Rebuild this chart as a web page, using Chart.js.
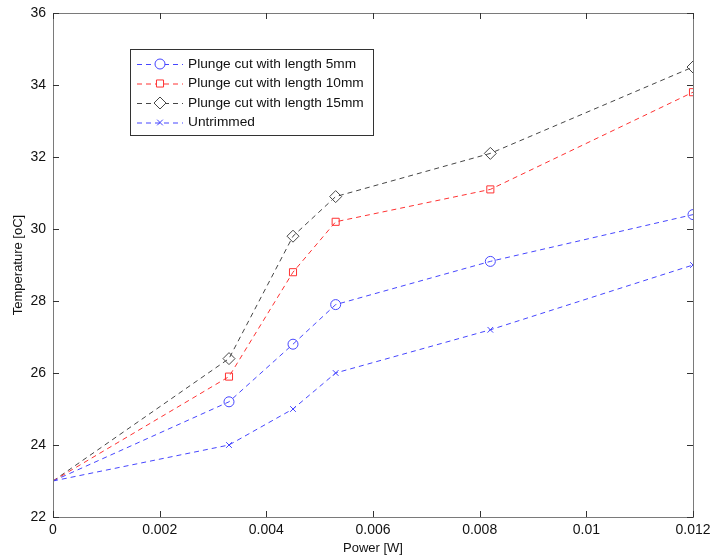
<!DOCTYPE html>
<html>
<head>
<meta charset="utf-8">
<script src="https://cdn.jsdelivr.net/npm/chart.js@4"></script>
<style>
  html, body { margin: 0; padding: 0; background: #fff; }
  #wrap { width: 713px; height: 558px; }
</style>
</head>
<body>
<div id="wrap"><canvas id="tempChart"></canvas></div>
<script>
const power = [0, 0.0033, 0.0045, 0.0053, 0.0082, 0.012];
const cut5mm = [23, 25.2, 26.8, 27.9, 29.1, 30.4];
const cut10mm = [23, 25.9, 28.8, 30.2, 31.1, 33.8];
const cut15mm = [23, 26.4, 29.8, 30.9, 32.1, 34.5];
const untrimmed = [23, 24.0, 25.0, 26.0, 27.2, 29.0];
const xTicks = [0, 0.002, 0.004, 0.006, 0.008, 0.01, 0.012];
const yTicks = [22, 24, 26, 28, 30, 32, 34, 36];

const FONT = "'Liberation Sans', Arial, sans-serif";
const BLUE = "rgb(70,70,255)";
const RED = "rgb(255,50,50)";
const DARK = "rgb(70,70,70)";

function series(label, values, color, style, radius) {
  return {
    label: label,
    data: power.map((p, i) => ({ x: p, y: values[i] })),
    borderColor: color,
    borderWidth: 1,
    borderDash: [5, 4],
    pointStyle: style,
    // the starting point at 0 W carries no marker
    pointRadius: power.map(p => (p === 0 ? 0 : radius)),
    legendRadius: radius,
    pointBorderColor: color,
    pointBackgroundColor: "rgba(0,0,0,0)",
    pointBorderWidth: 1,
    fill: false,
    tension: 0
  };
}

// MATLAB-style frame with inward ticks on every side
const framePlugin = {
  id: "frame",
  afterDatasetsDraw(chart) {
    const { ctx, chartArea: a, scales } = chart;
    ctx.save();
    ctx.strokeStyle = "#7a7a7a";
    ctx.lineWidth = 1;
    ctx.strokeRect(Math.round(a.left) + 0.5, Math.round(a.top) + 0.5,
      Math.round(a.right - a.left), Math.round(a.bottom - a.top));
    ctx.strokeStyle = "#333";
    ctx.beginPath();
    xTicks.forEach(v => {
      const x = Math.round(scales.x.getPixelForValue(v)) + 0.5;
      ctx.moveTo(x, a.bottom); ctx.lineTo(x, a.bottom - 6);
      ctx.moveTo(x, a.top); ctx.lineTo(x, a.top + 6);
    });
    yTicks.forEach(v => {
      const y = Math.round(scales.y.getPixelForValue(v)) + 0.5;
      ctx.moveTo(a.left, y); ctx.lineTo(a.left + 6, y);
      ctx.moveTo(a.right, y); ctx.lineTo(a.right - 6, y);
    });
    ctx.stroke();
    ctx.restore();
  }
};

// legend box drawn like the MATLAB one
const legendPlugin = {
  id: "boxLegend",
  afterDraw(chart) {
    const ctx = chart.ctx;
    const left = 130, top = 49, w = 243, h = 86, rowH = 19.5;
    ctx.save();
    ctx.fillStyle = "#fff";
    ctx.fillRect(left, top, w, h);
    ctx.strokeStyle = "#333";
    ctx.lineWidth = 1;
    ctx.strokeRect(left + 0.5, top + 0.5, w, h);
    ctx.font = "13.7px " + FONT;
    ctx.textBaseline = "middle";
    chart.data.datasets.forEach((ds, i) => {
      const y = top + 15 + i * rowH;
      ctx.strokeStyle = ds.borderColor;
      ctx.setLineDash([5, 4]);
      ctx.beginPath();
      ctx.moveTo(137, y + 0.5); ctx.lineTo(183, y + 0.5);
      ctx.stroke();
      ctx.setLineDash([]);
      ctx.fillStyle = "#fff";
      Chart.helpers.drawPoint(ctx, {
        pointStyle: ds.pointStyle, radius: ds.legendRadius, rotation: 0, borderWidth: 1
      }, 160, y);
      ctx.fillStyle = "#111";
      ctx.fillText(ds.label, 188, y);
    });
    ctx.restore();
  }
};

new Chart(document.getElementById("tempChart"), {
  type: "line",
  data: {
    datasets: [
      series("Plunge cut with length 5mm", cut5mm, BLUE, "circle", 5),
      series("Plunge cut with length 10mm", cut10mm, RED, "rect", 5),
      series("Plunge cut with length 15mm", cut15mm, DARK, "rectRot", 6),
      series("Untrimmed", untrimmed, BLUE, "crossRot", 4)
    ]
  },
  options: {
    responsive: true,
    maintainAspectRatio: false,
    animation: false,
    layout: { padding: { top: 13, right: 20, left: 0, bottom: 0 } },
    plugins: { legend: { display: false }, tooltip: { enabled: false } },
    scales: {
      x: {
        type: "linear",
        min: 0,
        max: 0.012,
        afterBuildTicks: s => { s.ticks = xTicks.map(v => ({ value: v })); },
        afterFit: s => { s.height = 41; s.paddingLeft = 0; s.paddingRight = 0; },
        grid: { display: false, drawTicks: false },
        border: { display: false },
        ticks: {
          padding: 5,
          color: "#111",
          font: { family: FONT, size: 14 },
          maxRotation: 0,
          callback: v => String(+v.toFixed(3))
        },
        title: {
          display: true,
          text: "Power [W]",
          color: "#111",
          font: { family: FONT, size: 13 },
          padding: { top: 2, bottom: 2 }
        }
      },
      y: {
        min: 22,
        max: 36,
        afterBuildTicks: s => { s.ticks = yTicks.map(v => ({ value: v })); },
        afterFit: s => { s.width = 53; s.paddingTop = 0; s.paddingBottom = 0; },
        grid: { display: false, drawTicks: false },
        border: { display: false },
        ticks: {
          padding: 7,
          color: "#111",
          font: { family: FONT, size: 14 }
        },
        title: {
          display: true,
          text: "Temperature [oC]",
          color: "#111",
          font: { family: FONT, size: 13 },
          padding: { top: 11, bottom: 11 }
        }
      }
    }
  },
  plugins: [framePlugin, legendPlugin]
});
</script>
</body>
</html>
